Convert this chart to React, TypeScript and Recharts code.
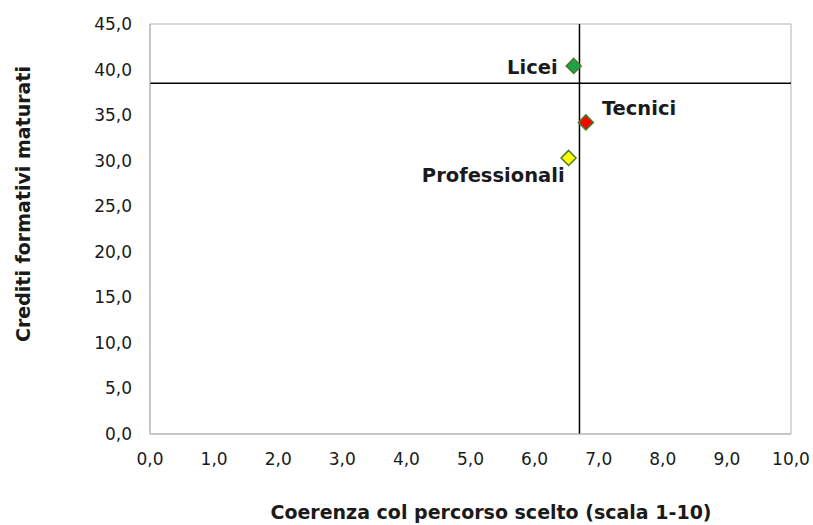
import React from "react"
import { ScatterChart, Scatter, XAxis, YAxis, ReferenceLine, ReferenceArea, LabelList, Cell, Label } from "recharts"

const schoolTypes = ["Licei", "Tecnici", "Professionali"]
const coherence = [6.61, 6.8, 6.53]
const credits = [40.4, 34.2, 30.3]
const markerColors = ["#1ea34a", "#ff0000", "#ffff00"]

const xTicks = [0, 1, 2, 3, 4, 5, 6, 7, 8, 9, 10]
const yTicks = [0, 5, 10, 15, 20, 25, 30, 35, 40, 45]

const avgCoherence = 6.7
const avgCredits = 38.5

const data = schoolTypes.map((name, i) => ({ name, x: coherence[i], y: credits[i] }))

const FONT = "'DejaVu Sans', Verdana, sans-serif"
const fmt = (v: number) => v.toFixed(1).replace(".", ",")

// label placement relative to each marker
const labelOffsets: Record<string, { dx: number; dy: number; anchor: "start" | "end" }> = {
  Licei: { dx: -16, dy: 2, anchor: "end" },
  Tecnici: { dx: 16, dy: -14, anchor: "start" },
  Professionali: { dx: -4, dy: 18, anchor: "end" },
}

function Diamond(props: any) {
  const { cx, cy, fill } = props
  const r = 7.5
  return (
    <polygon
      points={`${cx},${cy - r} ${cx + r},${cy} ${cx},${cy + r} ${cx - r},${cy}`}
      fill={fill}
      stroke="#4a7a26"
      strokeWidth={1.5}
    />
  )
}

function PointLabel(props: any) {
  const { x, y, width, height, value } = props
  const o = labelOffsets[value] || { dx: 0, dy: 0, anchor: "start" }
  const cx = x + width / 2
  const cy = y + height / 2
  return (
    <text x={cx + o.dx} y={cy + o.dy} textAnchor={o.anchor} dominantBaseline="central"
      fontFamily={FONT} fontSize={19.5} fontWeight="bold" fill="#1a1a1a">
      {value}
    </text>
  )
}

export default function App() {
  return (
    <div style={{ position: "absolute", left: 0, top: 0, background: "#fff" }}>
      <ScatterChart width={813} height={525} margin={{ top: 24, right: 22, left: 0, bottom: 0 }}>
        <ReferenceArea x1={0} x2={10} y1={0} y2={45} fill="none" stroke="#b3b3b3" strokeWidth={1} />
        <XAxis type="number" dataKey="x" domain={[0, 10]} ticks={xTicks} tickFormatter={fmt}
          height={91} tickLine={false} axisLine={{ stroke: "#b3b3b3" }} tickSize={0} tickMargin={19}
          tick={{ fontFamily: FONT, fontSize: 17, fill: "#1a1a1a" }} interval={0}>
          <Label content={() => (
            <text x={491} y={512} textAnchor="middle" dominantBaseline="central"
              fontFamily={FONT} fontSize={19} fontWeight="bold" fill="#1a1a1a">
              Coerenza col percorso scelto (scala 1-10)
            </text>
          )} />
        </XAxis>
        <YAxis type="number" dataKey="y" domain={[0, 45]} ticks={yTicks} tickFormatter={fmt}
          width={150} tickLine={false} axisLine={{ stroke: "#b3b3b3" }} tickSize={0} tickMargin={18}
          tick={{ fontFamily: FONT, fontSize: 17, fill: "#1a1a1a" }} interval={0}>
          <Label content={() => (
            <text x={23} y={204} textAnchor="middle" dominantBaseline="central" transform="rotate(-90 23 204)"
              fontFamily={FONT} fontSize={19} fontWeight="bold" fill="#1a1a1a">
              Crediti formativi maturati
            </text>
          )} />
        </YAxis>
        <ReferenceLine x={avgCoherence} stroke="#000" strokeWidth={1.5} />
        <ReferenceLine y={avgCredits} stroke="#000" strokeWidth={1.5} />
        <Scatter data={data} shape={<Diamond />} isAnimationActive={false}>
          {data.map((d, i) => <Cell key={d.name} fill={markerColors[i]} />)}
          <LabelList dataKey="name" content={<PointLabel />} />
        </Scatter>
      </ScatterChart>
    </div>
  )
}
